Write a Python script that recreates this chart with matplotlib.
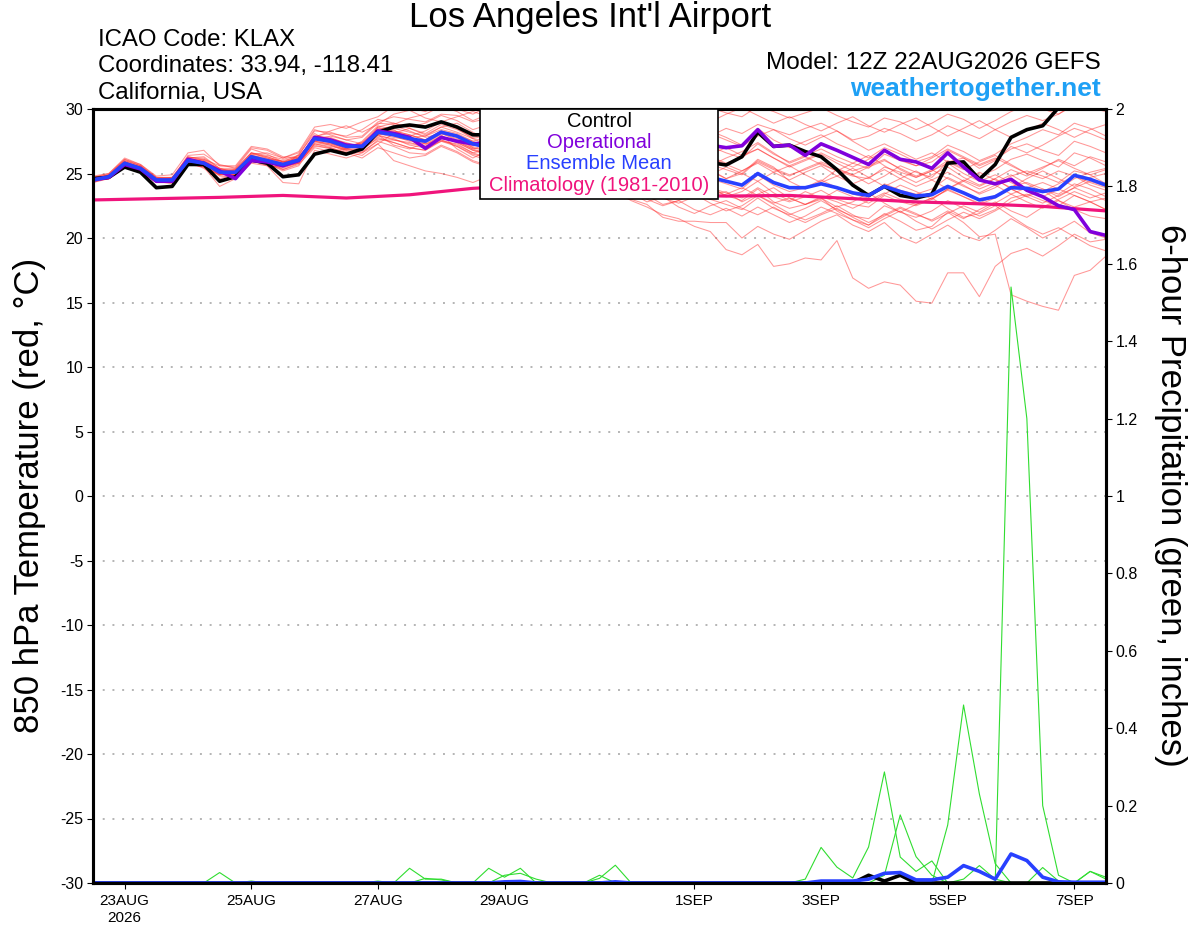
import numpy as np
import matplotlib.pyplot as plt
from matplotlib.patches import Rectangle

plt.rcParams['font.family'] = ['Liberation Sans', 'DejaVu Sans']
plt.rcParams['axes.unicode_minus'] = False

# GEFS 12Z 22AUG2026, 6-hourly steps 0..384 h
t0 = np.datetime64('2026-08-22T12:00')
times = t0 + np.arange(65) * np.timedelta64(6, 'h')

# 850 hPa temperature (C)
control = [24.6, 24.7, 25.5, 25.1, 23.9, 24.0, 25.7, 25.7, 24.4, 24.75,
           26.05, 25.8, 24.75, 24.9, 26.5, 26.8, 26.5, 26.9, 28.2, 28.6,
           28.76, 28.6, 29.0, 28.6, 28.0, 28.0, 28.3, 27.6, 27.2, 27.5,
           27.0, 26.5, 26.8, 26.2, 25.8, 26.0, 25.5, 25.2, 25.6, 25.85,
           25.66, 26.3, 28.2, 27.1, 27.2, 26.7, 26.3, 25.3, 24.1, 23.3,
           24.0, 23.3, 23.1, 23.4, 25.8, 25.9, 24.55, 25.7, 27.8, 28.4,
           28.7, 30.1, 31.3, 31.8, 32.2]
operational = [24.5, 24.7, 25.7, 25.35, 24.4, 24.4, 26.1, 25.8, 25.2, 24.6,
               26.0, 25.9, 25.6, 26.0, 27.8, 27.6, 27.2, 27.1, 28.3, 28.1,
               27.8, 26.95, 27.8, 27.5, 27.3, 27.4, 27.6, 27.1, 27.0, 27.3,
               26.9, 26.6, 27.0, 26.6, 26.3, 26.8, 26.5, 26.9, 27.1, 27.2,
               27.0, 27.15, 28.4, 27.1, 27.2, 26.4, 27.3, 26.8, 26.25, 25.7,
               26.8, 26.1, 25.9, 25.4, 26.6, 25.5, 24.5, 24.2, 24.55, 23.7,
               23.2, 22.5, 22.2, 20.5, 20.2]
ens_mean = [24.5, 24.75, 25.8, 25.4, 24.5, 24.5, 26.0, 25.8, 25.1, 25.1,
            26.3, 26.0, 25.7, 26.05, 27.7, 27.5, 27.1, 27.1, 28.2, 28.0,
            27.7, 27.5, 28.2, 27.9, 27.3, 27.0, 27.2, 26.8, 26.5, 26.6,
            26.2, 25.8, 25.9, 25.5, 25.2, 25.3, 24.9, 24.6, 24.8, 24.7,
            24.4, 24.1, 25.0, 24.3, 23.9, 23.9, 24.2, 23.9, 23.5, 23.3,
            24.0, 23.6, 23.26, 23.36, 24.0, 23.5, 22.95, 23.2, 23.9, 23.85,
            23.6, 23.8, 24.86, 24.55, 24.1]

# climatology (1981-2010), daily
clim_step = [0, 4, 8, 12, 16, 20, 24, 28, 32, 36, 40, 44, 48, 52, 56, 60, 64]
clim = [22.95, 23.05, 23.15, 23.3, 23.1, 23.35, 23.85, 24.1, 23.8, 23.35,
        23.25, 23.3, 23.05, 22.8, 22.65, 22.45, 22.1]

# ensemble members
mem01 = [24.7, 24.9, 26.0, 25.6, 24.7, 24.6, 26.3, 26.1, 25.3, 25.2,
         26.6, 26.3, 25.9, 26.4, 28.3, 28.2, 27.8, 27.9, 29.0, 29.4,
         29.2, 29.0, 29.6, 29.5, 29.0, 29.3, 29.8, 29.4, 29.0, 29.5,
         29.2, 28.6, 28.9, 28.3, 27.9, 28.4, 28.0, 27.5, 27.9, 28.3,
         27.8, 27.2, 28.5, 27.6, 27.0, 27.5, 28.0, 27.3, 26.8, 26.2,
         27.0, 26.5, 25.9, 26.3, 27.2, 26.7, 26.0, 26.5, 27.3, 27.8,
         28.4, 28.0, 28.9, 28.5, 27.9]
mem02 = [24.4, 24.6, 25.6, 25.2, 24.3, 24.3, 25.8, 25.5, 24.9, 24.9,
         26.0, 25.7, 25.3, 25.8, 27.3, 27.0, 26.6, 26.8, 27.8, 27.4,
         27.0, 26.8, 27.5, 27.1, 26.4, 26.0, 26.3, 25.6, 25.0, 25.2,
         24.7, 24.1, 24.3, 23.6, 22.9, 22.4, 21.8, 21.5, 20.9, 20.5,
         19.1, 18.7, 19.5, 17.8, 18.0, 18.45, 18.3, 19.8, 16.9, 16.1,
         16.6, 16.35, 15.1, 14.95, 17.3, 17.3, 15.45, 17.8, 18.8, 19.2,
         18.6, 19.4, 20.3, 19.7, 19.9]
mem03 = [24.6, 24.8, 25.9, 25.5, 24.6, 24.7, 26.2, 25.9, 25.0, 25.3,
         26.4, 26.2, 25.9, 26.2, 27.9, 27.7, 27.3, 27.2, 28.5, 28.3,
         28.0, 27.6, 28.3, 28.0, 27.5, 27.0, 27.1, 26.6, 26.0, 26.2,
         25.9, 25.3, 25.6, 25.2, 24.6, 24.9, 24.4, 23.8, 24.2, 23.9,
         23.3, 22.9, 23.8, 22.8, 22.3, 22.6, 23.1, 22.1, 21.4, 21.0,
         21.9, 21.3, 20.6, 20.9, 22.0, 21.2, 20.1, 20.3, 15.6, 15.1,
         14.7, 14.4, 17.1, 17.5, 18.6]
mem04 = [24.5, 24.6, 25.6, 25.2, 24.3, 24.5, 25.7, 25.5, 24.0, 24.6,
         25.8, 25.6, 24.3, 24.2, 26.8, 26.5, 26.2, 26.6, 27.3, 26.0,
         25.6, 25.2, 25.0, 24.7, 24.3, 24.8, 25.2, 24.6, 24.0, 24.3,
         23.9, 23.5, 23.8, 23.2, 23.0, 22.6, 21.6, 21.3, 21.3, 21.2,
         21.2, 20.0, 20.9, 20.3, 19.9, 20.6, 21.3, 21.8, 21.0, 20.5,
         21.2, 20.1, 19.6, 20.3, 21.0, 20.2, 19.8, 20.6, 21.5, 20.8,
         20.0, 20.6, 21.3, 20.4, 20.0]
mem05 = [24.8, 25.0, 26.1, 25.7, 24.8, 24.9, 26.6, 26.8, 25.6, 25.5,
         27.0, 26.8, 26.2, 26.7, 28.6, 28.8, 28.5, 29.0, 29.4, 30.2,
         30.1, 29.8, 30.4, 30.0, 29.6, 30.2, 30.6, 30.1, 29.7, 30.3,
         29.9, 29.5, 30.0, 29.6, 29.2, 29.7, 29.3, 29.0, 29.6, 30.1,
         29.7, 29.4, 30.2, 29.8, 29.3, 29.7, 30.1, 29.5, 29.0, 28.6,
         29.3, 29.0, 28.4, 28.9, 29.6, 29.2, 28.5, 29.1, 29.8, 30.3,
         30.0, 29.6, 30.4, 30.1, 29.8]
mem06 = [24.3, 24.6, 25.7, 25.3, 24.5, 24.6, 25.8, 25.5, 24.9, 25.0,
         26.1, 25.8, 25.2, 25.6, 27.4, 27.2, 26.8, 27.0, 28.6, 28.9,
         28.5, 28.1, 28.8, 28.4, 27.8, 28.1, 28.4, 27.9, 27.5, 27.9,
         27.5, 27.0, 27.4, 27.0, 26.6, 27.0, 26.6, 26.2, 26.8, 27.1,
         26.6, 26.2, 27.3, 26.5, 25.9, 26.4, 26.9, 26.3, 25.8, 25.4,
         26.5, 26.0, 25.6, 25.9, 26.8, 26.2, 25.6, 26.1, 26.9, 27.3,
         26.8, 26.4, 27.5, 27.1, 26.6]
mem07 = [24.5, 24.8, 25.9, 25.3, 24.4, 24.4, 26.1, 26.0, 25.3, 25.0,
         26.5, 26.3, 25.9, 26.1, 27.9, 27.8, 27.3, 27.0, 28.0, 27.6,
         27.3, 27.2, 27.9, 27.4, 26.8, 26.6, 26.9, 26.5, 26.2, 26.5,
         26.0, 25.7, 26.1, 25.7, 25.4, 25.8, 25.3, 25.1, 25.6, 25.7,
         25.3, 24.9, 26.0, 25.4, 24.9, 25.3, 25.8, 25.2, 24.8, 24.6,
         25.5, 25.1, 24.7, 25.2, 26.0, 25.4, 24.8, 25.3, 26.1, 26.5,
         26.0, 25.5, 26.6, 26.2, 25.6]
mem08 = [24.6, 24.7, 25.7, 25.5, 24.6, 24.5, 25.9, 25.7, 25.2, 25.3,
         26.2, 25.9, 25.8, 26.3, 27.5, 27.3, 27.0, 27.4, 28.3, 27.9,
         27.5, 27.6, 28.3, 27.8, 27.0, 26.8, 27.0, 26.4, 26.0, 26.2,
         25.7, 25.2, 25.5, 25.0, 24.6, 24.9, 24.4, 24.0, 24.5, 24.6,
         24.2, 23.8, 24.9, 24.1, 23.6, 23.9, 24.5, 23.9, 23.4, 23.1,
         24.2, 23.7, 23.4, 23.8, 24.7, 24.1, 23.4, 23.9, 24.8, 25.2,
         24.8, 24.3, 25.2, 24.9, 24.2]
mem09 = [24.4, 24.8, 25.9, 25.4, 24.5, 24.6, 25.9, 25.6, 25.0, 25.2,
         26.4, 25.9, 25.5, 25.8, 27.6, 27.6, 27.2, 26.9, 27.7, 27.4,
         27.0, 26.8, 27.6, 27.1, 26.5, 26.2, 26.4, 25.9, 25.5, 25.8,
         25.3, 24.8, 25.2, 24.7, 24.2, 24.5, 23.9, 23.5, 24.0, 23.9,
         23.5, 23.1, 23.9, 23.2, 22.8, 23.2, 23.7, 23.0, 22.6, 22.4,
         23.3, 22.8, 22.5, 23.0, 23.8, 23.2, 22.6, 23.1, 24.0, 24.3,
         23.8, 23.4, 24.2, 23.8, 23.2]
mem10 = [24.5, 24.6, 25.6, 25.3, 24.4, 24.3, 25.7, 25.6, 24.9, 24.9,
         26.1, 25.7, 25.4, 25.9, 27.2, 26.9, 26.5, 26.7, 27.5, 27.1,
         26.6, 26.5, 27.2, 26.7, 26.0, 25.6, 25.9, 25.3, 24.8, 25.1,
         24.6, 24.1, 24.5, 23.9, 23.4, 23.7, 23.1, 22.7, 23.2, 23.0,
         22.6, 22.2, 23.1, 22.3, 21.8, 22.3, 22.9, 22.2, 21.7, 21.5,
         22.5, 22.0, 21.6, 22.1, 22.9, 22.3, 21.7, 22.2, 23.1, 23.4,
         22.9, 22.5, 23.3, 22.8, 22.2]
mem11 = [24.7, 24.9, 25.8, 25.2, 24.3, 24.4, 26.2, 26.3, 25.4, 25.0,
         26.0, 25.6, 25.5, 26.5, 28.1, 27.4, 26.9, 27.5, 28.7, 28.4,
         27.6, 27.0, 27.7, 27.5, 26.9, 27.3, 26.6, 26.0, 26.4, 27.1,
         26.5, 25.6, 25.2, 25.8, 25.5, 24.8, 24.5, 25.2, 25.9, 25.3,
         24.6, 25.0, 26.1, 25.5, 24.4, 23.8, 24.4, 25.3, 24.9, 24.2,
         24.8, 25.6, 25.1, 24.7, 25.9, 26.2, 25.4, 26.0, 27.1, 26.6,
         27.2, 27.9, 28.5, 28.1, 27.6]
mem12 = [24.3, 24.7, 25.8, 25.5, 24.6, 24.5, 25.9, 25.4, 24.6, 24.9,
         26.3, 26.0, 25.3, 25.7, 27.0, 26.7, 26.9, 27.3, 28.0, 27.2,
         26.9, 27.4, 28.0, 26.9, 26.2, 26.8, 27.3, 26.4, 25.6, 25.2,
         25.8, 25.4, 24.7, 24.2, 24.8, 24.3, 23.5, 23.9, 24.6, 24.0,
         23.2, 23.6, 24.4, 23.5, 22.9, 23.6, 23.1, 22.4, 22.8, 23.5,
         22.7, 22.0, 22.6, 23.1, 22.3, 21.6, 21.9, 22.5, 21.7, 20.9,
         20.3, 20.8, 20.1, 19.4, 19.0]
mem13 = [24.6, 24.9, 26.0, 25.6, 24.5, 24.3, 25.8, 25.9, 25.4, 25.4,
         26.6, 26.4, 26.1, 26.4, 27.6, 27.9, 27.6, 27.3, 28.4, 28.7,
         28.3, 27.8, 28.1, 27.6, 27.0, 26.7, 25.9, 25.4, 25.8, 25.3,
         24.7, 24.9, 25.4, 24.8, 24.1, 23.6, 24.0, 24.3, 23.7, 23.3,
         23.6, 22.8, 23.4, 23.9, 23.1, 22.6, 23.0, 23.7, 23.2, 22.7,
         23.4, 24.1, 23.6, 23.0, 23.8, 24.5, 24.0, 24.6, 25.3, 24.8,
         25.4, 26.1, 25.6, 26.3, 25.9]
mem14 = [24.4, 24.6, 25.7, 25.4, 24.6, 24.7, 26.3, 26.0, 25.2, 25.1,
         26.2, 26.1, 26.0, 26.3, 27.5, 27.2, 26.7, 26.4, 27.3, 28.1,
         28.5, 28.0, 28.6, 28.9, 28.2, 27.6, 28.0, 27.7, 27.1, 26.8,
         27.3, 26.9, 26.2, 26.6, 27.0, 26.4, 26.0, 26.6, 26.1, 25.6,
         26.2, 26.7, 27.4, 26.6, 25.8, 26.3, 25.7, 25.2, 25.8, 26.4,
         25.6, 24.9, 24.3, 24.9, 25.5, 24.7, 24.1, 24.6, 23.8, 23.2,
         23.7, 22.9, 22.4, 22.8, 22.2]
mem15 = [24.5, 24.7, 25.9, 25.5, 24.6, 24.6, 26.4, 26.5, 25.7, 25.4,
         26.9, 26.5, 25.9, 26.0, 27.9, 28.1, 27.9, 28.4, 29.2, 28.9,
         28.6, 28.9, 29.5, 29.1, 28.4, 28.8, 29.3, 28.6, 28.0, 28.5,
         28.9, 28.3, 27.8, 28.2, 27.7, 27.2, 27.8, 28.3, 27.6, 27.9,
         28.5, 28.1, 28.8, 28.4, 27.7, 27.2, 27.8, 28.3, 27.5, 26.8,
         27.3, 26.7, 26.1, 26.6, 25.9, 25.3, 25.9, 26.4, 25.7, 25.0,
         24.6, 25.2, 24.8, 24.1, 23.7]
mem16 = [24.6, 24.8, 25.7, 25.2, 24.4, 24.4, 25.7, 25.6, 24.8, 24.7,
         25.9, 25.8, 25.6, 25.9, 27.1, 27.0, 26.6, 26.2, 27.0, 26.6,
         26.2, 26.4, 27.1, 26.6, 25.9, 25.5, 25.9, 25.6, 24.9, 25.3,
         24.8, 24.2, 23.9, 24.4, 23.8, 23.3, 22.6, 22.9, 23.4, 22.7,
         22.1, 22.5, 23.3, 22.6, 21.9, 21.4, 21.9, 22.5, 21.8, 21.2,
         21.8, 22.4, 21.9, 21.3, 21.9, 22.5, 22.0, 22.7, 23.4, 23.9,
         24.3, 23.8, 24.6, 25.1, 25.4]
mem17 = [24.7, 25.0, 26.2, 25.7, 24.7, 24.7, 26.0, 26.1, 25.6, 25.6,
         27.1, 26.9, 26.3, 26.2, 27.8, 28.3, 28.7, 28.2, 28.8, 29.6,
         29.9, 29.3, 29.0, 29.4, 29.8, 29.4, 28.8, 29.2, 29.6, 29.0,
         28.5, 28.8, 28.2, 27.8, 28.3, 28.0, 27.4, 27.0, 27.5, 28.1,
         27.6, 27.1, 27.9, 28.4, 28.0, 28.5, 28.9, 28.3, 27.6, 27.9,
         28.5, 28.1, 27.5, 28.0, 28.7, 28.2, 27.7, 28.4, 29.0, 29.5,
         29.1, 29.6, 30.3, 29.9, 30.4]
mem18 = [24.4, 24.8, 25.9, 25.4, 24.4, 24.2, 25.9, 25.9, 25.3, 25.3,
         26.6, 26.2, 25.8, 26.2, 27.8, 27.5, 27.1, 27.4, 28.6, 28.2,
         27.9, 28.3, 29.0, 28.5, 27.7, 27.2, 27.5, 27.0, 26.5, 26.0,
         26.4, 26.0, 25.4, 25.0, 25.5, 25.9, 25.4, 24.8, 24.3, 24.9,
         25.5, 25.0, 24.4, 25.1, 25.6, 24.9, 24.3, 24.8, 25.4, 24.7,
         24.0, 24.6, 25.2, 24.5, 23.8, 24.4, 25.1, 24.5, 23.9, 24.6,
         25.2, 24.6, 24.0, 24.7, 25.0]
mem19 = [24.5, 24.7, 25.7, 25.3, 24.5, 24.4, 25.8, 25.7, 25.1, 24.8,
         25.9, 25.9, 25.7, 26.0, 27.3, 27.1, 26.9, 26.6, 27.6, 27.6,
         27.4, 27.1, 27.8, 27.4, 26.8, 26.4, 26.6, 25.9, 25.3, 25.6,
         25.1, 24.5, 24.8, 24.2, 23.5, 22.8, 23.2, 22.4, 21.9, 22.5,
         22.9, 22.3, 21.8, 22.4, 21.7, 21.2, 21.8, 22.3, 21.6, 21.0,
         21.7, 22.3, 21.8, 21.4, 22.1, 21.5, 22.2, 22.8, 22.1, 21.6,
         22.4, 23.0, 23.6, 23.1, 23.5]
mem20 = [24.6, 24.8, 25.8, 25.5, 24.7, 24.6, 26.1, 25.7, 24.9, 25.1,
         26.4, 26.1, 25.6, 25.8, 27.6, 27.7, 27.4, 27.0, 28.1, 28.3,
         28.0, 27.6, 28.1, 27.7, 27.1, 27.5, 27.8, 27.2, 26.9, 27.3,
         26.8, 26.4, 26.8, 26.3, 25.9, 26.3, 25.8, 25.4, 25.9, 26.2,
         25.7, 25.2, 25.9, 25.3, 24.8, 25.4, 25.9, 25.4, 24.9, 25.5,
         26.0, 25.4, 24.8, 25.3, 24.6, 24.0, 23.5, 24.1, 23.4, 22.8,
         22.3, 22.9, 22.2, 21.7, 21.5]
mem21 = [24.5, 24.8, 25.8, 25.3, 24.4, 24.5, 26.0, 25.8, 25.0, 25.0,
         26.2, 25.9, 25.6, 26.0, 27.7, 27.4, 27.0, 27.2, 28.1, 27.8,
         27.6, 27.3, 27.9, 27.5, 26.9, 26.5, 26.1, 25.6, 25.9, 25.4,
         24.9, 25.3, 24.8, 24.3, 24.6, 24.1, 23.6, 23.9, 23.4, 23.0,
         23.4, 23.9, 23.3, 22.7, 23.1, 22.6, 23.2, 22.8, 22.3, 22.9,
         23.5, 23.0, 22.6, 23.1, 23.7, 23.2, 22.7, 23.3, 23.8, 23.2,
         22.7, 23.3, 23.9, 23.4, 22.9]
mem22 = [24.6, 24.7, 25.8, 25.4, 24.5, 24.6, 26.0, 25.9, 25.2, 25.2,
         26.3, 26.0, 25.7, 26.1, 27.8, 27.6, 27.2, 27.0, 28.2, 28.5,
         28.2, 27.9, 28.4, 28.1, 27.5, 27.9, 28.2, 27.5, 27.0, 27.4,
         26.9, 26.5, 26.9, 26.4, 26.0, 26.4, 25.9, 26.5, 26.9, 26.3,
         25.8, 26.3, 26.9, 26.2, 25.6, 26.1, 26.6, 26.0, 25.5, 26.1,
         26.7, 26.1, 25.6, 26.2, 26.9, 26.3, 25.7, 26.2, 25.6, 25.0,
         25.5, 26.0, 25.4, 24.9, 25.3]
mem23 = [24.5, 24.9, 26.1, 25.6, 24.6, 24.5, 26.2, 26.2, 25.4, 25.1,
         26.5, 26.6, 26.2, 26.6, 28.4, 28.0, 27.6, 27.8, 28.9, 28.8,
         29.3, 29.6, 30.2, 29.8, 29.1, 29.6, 29.9, 29.2, 28.7, 29.1,
         28.6, 28.1, 28.5, 28.9, 28.4, 28.9, 29.5, 29.1, 28.6, 29.0,
         29.6, 30.1, 29.5, 28.9, 29.4, 28.8, 28.3, 28.9, 29.4, 28.7,
         28.2, 28.8, 29.3, 28.6, 27.9, 28.5, 29.1, 28.4, 27.8, 28.3,
         28.9, 28.4, 27.8, 28.4, 28.8]
mem24 = [24.4, 24.7, 25.8, 25.3, 24.5, 24.6, 26.1, 25.8, 25.1, 25.2,
         26.2, 25.8, 25.6, 26.2, 27.6, 27.4, 26.9, 27.1, 28.0, 28.2,
         27.9, 27.3, 27.6, 27.2, 26.6, 26.9, 27.4, 26.8, 26.1, 26.5,
         26.9, 26.2, 25.6, 25.9, 26.3, 25.6, 25.0, 25.5, 25.9, 25.2,
         24.6, 25.2, 25.8, 25.1, 24.5, 25.1, 25.6, 24.8, 24.2, 24.7,
         25.3, 24.6, 24.0, 24.5, 25.1, 24.4, 23.8, 24.3, 24.9, 24.2,
         23.6, 24.2, 24.8, 24.3, 23.9]
mem25 = [24.6, 24.8, 25.7, 25.2, 24.4, 24.5, 25.9, 25.7, 25.0, 24.9,
         26.2, 26.0, 25.7, 26.0, 27.5, 27.3, 26.8, 26.9, 27.9, 27.7,
         27.2, 27.0, 27.5, 27.3, 26.6, 26.2, 26.5, 25.8, 25.1, 25.5,
         25.0, 24.4, 24.7, 24.0, 23.6, 23.0, 22.5, 22.9, 22.2, 21.8,
         22.3, 21.7, 22.4, 21.8, 21.2, 21.7, 22.4, 21.9, 21.4, 20.8,
         21.5, 22.1, 21.3, 20.7, 21.4, 22.0, 21.5, 22.1, 22.8, 23.3,
         23.8, 23.2, 23.9, 24.4, 24.0]
mem26 = [24.5, 24.8, 25.9, 25.5, 24.5, 24.4, 26.0, 25.9, 25.2, 25.0,
         26.3, 26.1, 25.8, 26.1, 27.7, 27.6, 27.3, 27.1, 28.3, 28.0,
         27.8, 27.9, 28.6, 28.2, 27.7, 28.0, 28.5, 27.8, 27.3, 27.8,
         27.4, 26.8, 27.2, 26.7, 26.3, 26.8, 27.2, 26.6, 26.0, 26.5,
         27.0, 26.4, 26.9, 26.2, 25.5, 26.0, 26.5, 25.8, 25.2, 25.6,
         26.1, 25.3, 24.7, 25.2, 25.8, 25.0, 24.4, 24.9, 24.3, 23.7,
         23.2, 23.8, 23.3, 22.8, 23.1]
members = [mem01, mem02, mem03, mem04, mem05, mem06, mem07, mem08, mem09,
           mem10, mem11, mem12, mem13, mem14, mem15, mem16, mem17, mem18,
           mem19, mem20, mem21, mem22, mem23, mem24, mem25, mem26]

# 6-hour precipitation (inches), only the non-zero steps
pcp_a = {57: 0.0, 58: 1.54, 59: 1.20, 60: 0.20, 61: 0.02, 63: 0.03, 64: 0.01}
pcp_b = {53: 0.0, 54: 0.15, 55: 0.46, 56: 0.23, 57: 0.05}
pcp_c = {45: 0.01, 46: 0.092, 47: 0.041, 48: 0.013, 49: 0.093, 50: 0.287,
         51: 0.067, 52: 0.03, 53: 0.057}
pcp_d = {50: 0.02, 51: 0.176, 52: 0.068, 53: 0.02}
pcp_e = {55: 0.01, 56: 0.045, 57: 0.01, 60: 0.04, 61: 0.005, 63: 0.03, 64: 0.015}
pcp_f = {8: 0.027, 10: 0.005, 20: 0.038, 21: 0.01, 22: 0.01}
pcp_g = {25: 0.038, 26: 0.015, 27: 0.038, 32: 0.012, 33: 0.046}
pcp_h = {18: 0.005, 21: 0.012, 22: 0.008, 26: 0.02, 27: 0.025, 28: 0.01, 32: 0.02}
pcp_members = [pcp_a, pcp_b, pcp_c, pcp_d, pcp_e, pcp_f, pcp_g, pcp_h]
pcp_control = {49: 0.02, 50: 0.005, 51: 0.02}
pcp_mean = {26: 0.003, 27: 0.004, 33: 0.003, 46: 0.005, 47: 0.005, 48: 0.005,
            49: 0.01, 50: 0.025, 51: 0.027, 52: 0.008, 53: 0.008, 54: 0.015,
            55: 0.045, 56: 0.03, 57: 0.01, 58: 0.075, 59: 0.058, 60: 0.015,
            61: 0.003, 62: 0.002, 63: 0.002, 64: 0.002}

tick_days = ['2026-08-23', '2026-08-25', '2026-08-27', '2026-08-29',
             '2026-09-01', '2026-09-03', '2026-09-05', '2026-09-07']
tick_labels = ['23AUG\n2026', '25AUG', '27AUG', '29AUG', '1SEP', '3SEP', '5SEP', '7SEP']
pcp_ticks = [0, 0.2, 0.4, 0.6, 0.8, 1.0, 1.2, 1.4, 1.6, 1.8, 2.0]
pcp_labels = ['0', '0.2', '0.4', '0.6', '0.8', '1', '1.2', '1.4', '1.6', '1.8', '2']


def steps(d):
    a = np.zeros(len(times))
    for k, v in d.items():
        a[k] = v
    return a


PURPLE = '#8000dc'
BLUE = '#2840ff'
PINK = '#f0147c'

fig = plt.figure(figsize=(12, 9.27), dpi=100)
ax = fig.add_axes([93/1200, 1 - 883/927, 1013/1200, 774/927])
ax2 = ax.twinx()

for m in members:
    ax.plot(times, m, color='#ff3030', lw=0.75, alpha=0.5)
ax.plot(times[clim_step], clim, color=PINK, lw=2.3)
ax.plot(times, control, color='black', lw=2.6)
ax.plot(times, operational, color=PURPLE, lw=2.6)
ax.plot(times, ens_mean, color=BLUE, lw=2.6)

for p in pcp_members:
    ax2.plot(times, steps(p), color='#30dd30', lw=0.8)
ax2.plot(times, steps(pcp_control), color='black', lw=2.6)
ax2.plot(times, steps(pcp_mean), color=BLUE, lw=2.6)

ax.set_xlim(times[0], times[-1])
ax.set_ylim(-30, 30)
ax.set_yticks(range(-30, 31, 5))
ax.grid(axis='y', color='#b4b4b4', linestyle=(0, (1, 4)), lw=1.4)
ax.set_axisbelow(True)
ax.set_xticks([np.datetime64(d + 'T00:00') for d in tick_days])
ax.set_xticklabels(tick_labels, fontsize=11, linespacing=1.25)
ax.tick_params(axis='y', direction='out', length=4, width=0.8, labelsize=11.5, pad=3)
ax.tick_params(axis='x', direction='out', length=4, width=0.8, pad=4)

ax2.set_ylim(0, 2)
ax2.set_yticks(pcp_ticks)
ax2.set_yticklabels(pcp_labels)
ax2.tick_params(axis='y', direction='out', length=4, width=0.8, labelsize=11.5, pad=3)

for a in (ax, ax2):
    for s in a.spines.values():
        s.set_linewidth(2.2)

# legend box in the top middle
x0 = (480 - 93) / 1013
x1 = (718 - 93) / 1013
y0 = 1 - (199 - 109) / 774
ax2.add_patch(Rectangle((x0, y0), x1 - x0, 1 - y0, transform=ax2.transAxes,
                        facecolor='white', edgecolor='black', lw=1.2, zorder=10, clip_on=False))
xc = (x0 + x1) / 2
leg = [('Control', 'black', 121), ('Operational', PURPLE, 142),
       ('Ensemble Mean', BLUE, 163), ('Climatology (1981-2010)', PINK, 185)]
for txt, col, ypix in leg:
    ax2.text(xc, 1 - (ypix - 109) / 774, txt, color=col, fontsize=14.5,
             ha='center', va='center', transform=ax2.transAxes, zorder=11)

fig.text(590/1200, 1 - 18/927, "Los Angeles Int'l Airport", ha='center', va='center', fontsize=25)
fig.text(98/1200, 1 - 40/927, 'ICAO Code: KLAX', va='center', fontsize=17.3)
fig.text(98/1200, 1 - 66/927, 'Coordinates: 33.94, -118.41', va='center', fontsize=17.3)
fig.text(98/1200, 1 - 93/927, 'California, USA', va='center', fontsize=17.3)
fig.text(1101/1200, 1 - 63/927, 'Model: 12Z 22AUG2026 GEFS', ha='right', va='center', fontsize=17.5)
fig.text(1101/1200, 1 - 89/927, 'weathertogether.net', ha='right', va='center',
         fontsize=19, color='#1ea0f5', fontweight='bold')
fig.text(30/1200, 1 - 495/927, '850 hPa Temperature (red, °C)', rotation=90,
         ha='center', va='center', fontsize=25)
fig.text(1170/1200, 1 - 495/927, '6-hour Precipitation (green, inches)', rotation=270,
         ha='center', va='center', fontsize=25)

fig.savefig('out.png', dpi=100)
